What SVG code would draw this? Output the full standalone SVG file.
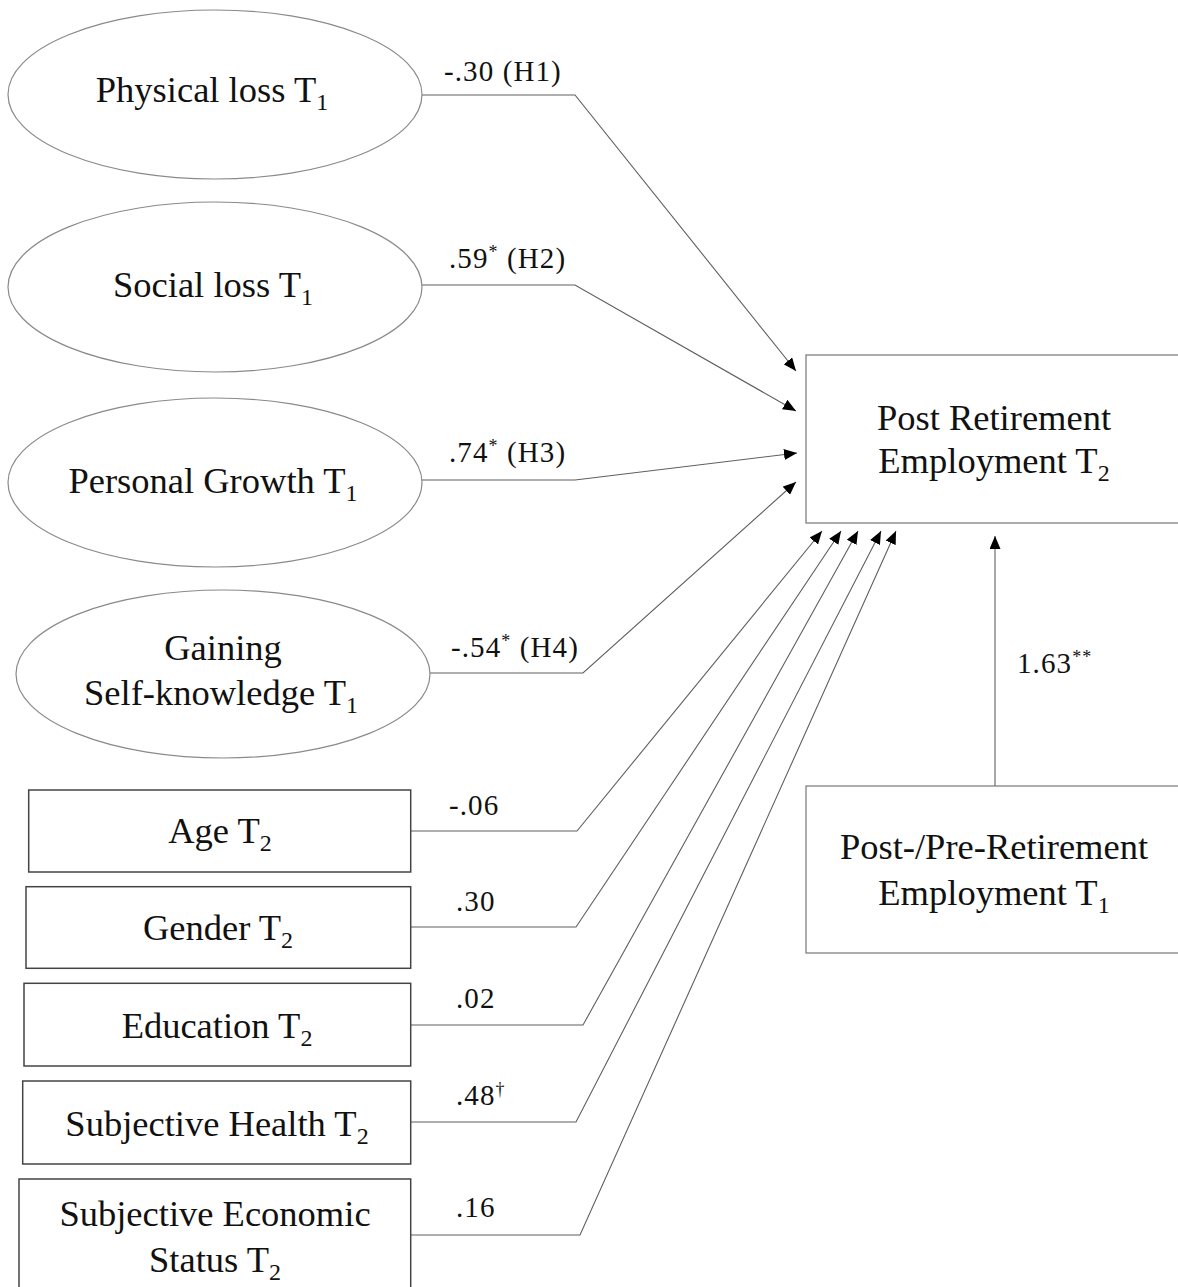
<svg xmlns="http://www.w3.org/2000/svg" width="1178" height="1287" viewBox="0 0 1178 1287">
<style>
  text { font-family: "Liberation Serif", "Times New Roman", serif; fill: #111; }
  .node { font-size: 36.5px; text-anchor: middle; }
  .lbl { font-size: 29px; letter-spacing: 1.1px; }
  .ell { fill: #fff; stroke: #8a8a8a; stroke-width: 1.2; }
  .box { fill: #fff; stroke: #444; stroke-width: 1.5; }
  .obox { fill: #fff; stroke: #777; stroke-width: 1.2; }
  .edge { fill: none; stroke: #5f5f5f; stroke-width: 1.1; marker-end: url(#arr); }
</style>
<defs>
  <marker id="arr" markerUnits="userSpaceOnUse" markerWidth="13" markerHeight="11" refX="13" refY="5.5" orient="auto">
    <path d="M0,0 L13,5.5 L0,11 z" fill="#000"/>
  </marker>
</defs>
<rect width="1178" height="1287" fill="#fff"/>

<g id="connectors">
  <polyline class="edge" points="421,95 575,95 796,371"/>
  <polyline class="edge" points="421,285 575,285 796,411"/>
  <polyline class="edge" points="421,480 575,480 797,453"/>
  <polyline class="edge" points="430,673 583,673 796,482"/>
  <polyline class="edge" points="411,831 577,831 822,531"/>
  <polyline class="edge" points="411,927 576,927 841,531"/>
  <polyline class="edge" points="411,1025 583,1025 858,531"/>
  <polyline class="edge" points="411,1122 576,1122 881,531"/>
  <polyline class="edge" points="411,1235 580,1235 896,531"/>
  <line class="edge" x1="995" y1="786" x2="995" y2="536"/>
</g>

<g id="labels">
  <text class="lbl" x="444" y="81">-.30 (H1)</text>
  <text class="lbl" x="449" y="268">.59<tspan font-size="18" dy="-10">*</tspan><tspan dy="10"> (H2)</tspan></text>
  <text class="lbl" x="449" y="462">.74<tspan font-size="18" dy="-10">*</tspan><tspan dy="10"> (H3)</tspan></text>
  <text class="lbl" x="451" y="657">-.54<tspan font-size="18" dy="-10">*</tspan><tspan dy="10"> (H4)</tspan></text>
  <text class="lbl" x="449" y="815">-.06</text>
  <text class="lbl" x="456" y="911">.30</text>
  <text class="lbl" x="456" y="1008">.02</text>
  <text class="lbl" x="456" y="1105">.48<tspan font-size="18" dy="-10">†</tspan></text>
  <text class="lbl" x="456" y="1217">.16</text>
  <text class="lbl" x="1017" y="673">1.63<tspan font-size="18" dy="-10">**</tspan></text>
</g>

<g id="physical-loss">
  <ellipse class="ell" cx="215" cy="94.5" rx="207" ry="84.5"/>
  <text class="node" x="212" y="102">Physical loss T<tspan font-size="24" dy="8">1</tspan></text>
</g>
<g id="social-loss">
  <ellipse class="ell" cx="215" cy="287" rx="207" ry="85"/>
  <text class="node" x="213" y="297">Social loss T<tspan font-size="24" dy="8">1</tspan></text>
</g>
<g id="personal-growth">
  <ellipse class="ell" cx="215" cy="482.5" rx="207" ry="84.5"/>
  <text class="node" x="213" y="493">Personal Growth T<tspan font-size="24" dy="8">1</tspan></text>
</g>
<g id="gaining-self-knowledge">
  <ellipse class="ell" cx="223" cy="674" rx="207" ry="84"/>
  <text class="node" x="223" y="660">Gaining</text>
  <text class="node" x="221" y="705">Self-knowledge T<tspan font-size="24" dy="8">1</tspan></text>
</g>

<g id="age">
  <rect class="box" x="28.7" y="790" width="382" height="82"/>
  <text class="node" x="220" y="843">Age T<tspan font-size="24" dy="8">2</tspan></text>
</g>
<g id="gender">
  <rect class="box" x="26" y="886.7" width="384.7" height="81.6"/>
  <text class="node" x="218" y="940">Gender T<tspan font-size="24" dy="8">2</tspan></text>
</g>
<g id="education">
  <rect class="box" x="24" y="983.3" width="386.7" height="82.7"/>
  <text class="node" x="217" y="1038">Education T<tspan font-size="24" dy="8">2</tspan></text>
</g>
<g id="subjective-health">
  <rect class="box" x="22.7" y="1081" width="388" height="83"/>
  <text class="node" x="217" y="1136">Subjective Health T<tspan font-size="24" dy="8">2</tspan></text>
</g>
<g id="subjective-economic-status">
  <rect class="box" x="19" y="1179" width="391.7" height="200"/>
  <text class="node" x="215" y="1226">Subjective Economic</text>
  <text class="node" x="215" y="1272">Status T<tspan font-size="24" dy="8">2</tspan></text>
</g>

<g id="post-retirement-employment-t2">
  <rect class="obox" x="806" y="355" width="400" height="168"/>
  <text class="node" x="994" y="430">Post Retirement</text>
  <text class="node" x="994" y="473">Employment T<tspan font-size="24" dy="8">2</tspan></text>
</g>
<g id="post-pre-retirement-employment-t1">
  <rect class="obox" x="806" y="786" width="400" height="167"/>
  <text class="node" x="994" y="859">Post-/Pre-Retirement</text>
  <text class="node" x="994" y="905">Employment T<tspan font-size="24" dy="8">1</tspan></text>
</g>
</svg>
